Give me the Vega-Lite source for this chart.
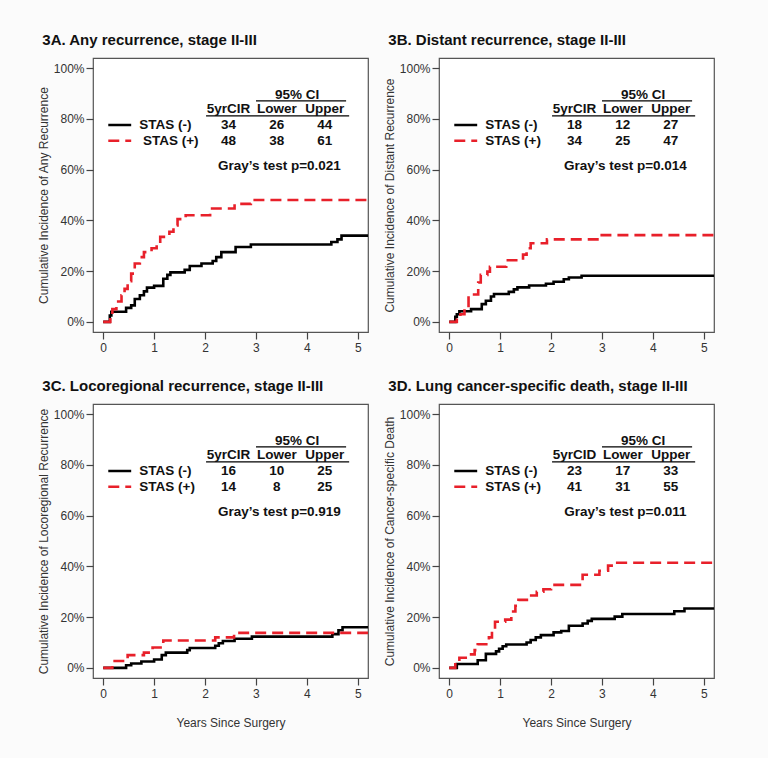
{
  "$schema": "https://vega.github.io/schema/vega-lite/v6.json",
  "background": "#fbfbfb",
  "padding": {"left": 36, "top": 32, "right": 48, "bottom": 31},
  "spacing": 24,
  "config": {
    "font": "Liberation Sans",
    "view": {"stroke": "#555", "strokeWidth": 1.2, "fill": "white"},
    "axis": {"grid": false, "domain": false, "tickColor": "#444", "tickSize": 7, "tickWidth": 1.2, "labelColor": "#333", "labelFontSize": 12, "labelPadding": 2, "titleColor": "#333", "titleFontWeight": "normal", "titleFontSize": 12, "titlePadding": 3},
    "axisX": {"labelPadding": 3, "titleFontSize": 12, "titlePadding": 18},
    "title": {"anchor": "start", "fontSize": 15, "fontWeight": "bold", "color": "#111", "offset": 10, "dx": 5},
    "concat": {"spacing": 8},
    "text": {"font": "Liberation Sans"}
  },
  "datasets": {
    "curves": [
      {"p":"A","g":"STAS (-)","t":0,"c":0},{"p":"A","g":"STAS (-)","t":0.12,"c":0},{"p":"A","g":"STAS (-)","t":0.13,"c":2.5},{"p":"A","g":"STAS (-)","t":0.16,"c":4},{"p":"A","g":"STAS (-)","t":0.45,"c":5.5},{"p":"A","g":"STAS (-)","t":0.55,"c":6.5},{"p":"A","g":"STAS (-)","t":0.62,"c":9},{"p":"A","g":"STAS (-)","t":0.72,"c":10.5},{"p":"A","g":"STAS (-)","t":0.8,"c":12},{"p":"A","g":"STAS (-)","t":0.86,"c":13.5},{"p":"A","g":"STAS (-)","t":1.0,"c":14.2},{"p":"A","g":"STAS (-)","t":1.18,"c":17},{"p":"A","g":"STAS (-)","t":1.26,"c":18.5},{"p":"A","g":"STAS (-)","t":1.32,"c":19.5},{"p":"A","g":"STAS (-)","t":1.6,"c":20.5},{"p":"A","g":"STAS (-)","t":1.7,"c":22},{"p":"A","g":"STAS (-)","t":1.93,"c":23},{"p":"A","g":"STAS (-)","t":2.15,"c":24},{"p":"A","g":"STAS (-)","t":2.22,"c":25.5},{"p":"A","g":"STAS (-)","t":2.32,"c":27.5},{"p":"A","g":"STAS (-)","t":2.6,"c":29.5},{"p":"A","g":"STAS (-)","t":2.9,"c":30.5},{"p":"A","g":"STAS (-)","t":4.48,"c":31.5},{"p":"A","g":"STAS (-)","t":4.6,"c":32.5},{"p":"A","g":"STAS (-)","t":4.68,"c":34},{"p":"A","g":"STAS (-)","t":5.2,"c":34},
      {"p":"A","g":"STAS (+)","t":0,"c":0},{"p":"A","g":"STAS (+)","t":0.12,"c":0},{"p":"A","g":"STAS (+)","t":0.14,"c":2.5},{"p":"A","g":"STAS (+)","t":0.18,"c":5},{"p":"A","g":"STAS (+)","t":0.26,"c":8},{"p":"A","g":"STAS (+)","t":0.36,"c":10.5},{"p":"A","g":"STAS (+)","t":0.42,"c":13},{"p":"A","g":"STAS (+)","t":0.48,"c":16},{"p":"A","g":"STAS (+)","t":0.55,"c":19},{"p":"A","g":"STAS (+)","t":0.62,"c":23},{"p":"A","g":"STAS (+)","t":0.72,"c":25.5},{"p":"A","g":"STAS (+)","t":0.8,"c":27.5},{"p":"A","g":"STAS (+)","t":0.95,"c":29},{"p":"A","g":"STAS (+)","t":1.05,"c":31},{"p":"A","g":"STAS (+)","t":1.12,"c":33.5},{"p":"A","g":"STAS (+)","t":1.3,"c":35.5},{"p":"A","g":"STAS (+)","t":1.38,"c":38},{"p":"A","g":"STAS (+)","t":1.46,"c":40.5},{"p":"A","g":"STAS (+)","t":1.62,"c":42},{"p":"A","g":"STAS (+)","t":2.1,"c":44.7},{"p":"A","g":"STAS (+)","t":2.58,"c":46.5},{"p":"A","g":"STAS (+)","t":2.9,"c":48},{"p":"A","g":"STAS (+)","t":5.2,"c":48},
      {"p":"B","g":"STAS (-)","t":0,"c":0},{"p":"B","g":"STAS (-)","t":0.1,"c":0},{"p":"B","g":"STAS (-)","t":0.12,"c":2},{"p":"B","g":"STAS (-)","t":0.15,"c":3},{"p":"B","g":"STAS (-)","t":0.2,"c":4.2},{"p":"B","g":"STAS (-)","t":0.43,"c":5},{"p":"B","g":"STAS (-)","t":0.64,"c":7},{"p":"B","g":"STAS (-)","t":0.72,"c":8.3},{"p":"B","g":"STAS (-)","t":0.82,"c":10},{"p":"B","g":"STAS (-)","t":0.88,"c":11},{"p":"B","g":"STAS (-)","t":1.17,"c":11.8},{"p":"B","g":"STAS (-)","t":1.27,"c":12.8},{"p":"B","g":"STAS (-)","t":1.34,"c":13.6},{"p":"B","g":"STAS (-)","t":1.57,"c":14.3},{"p":"B","g":"STAS (-)","t":1.9,"c":15},{"p":"B","g":"STAS (-)","t":2.05,"c":15.8},{"p":"B","g":"STAS (-)","t":2.25,"c":16.8},{"p":"B","g":"STAS (-)","t":2.35,"c":17.5},{"p":"B","g":"STAS (-)","t":2.6,"c":18.2},{"p":"B","g":"STAS (-)","t":5.2,"c":18.2},
      {"p":"B","g":"STAS (+)","t":0,"c":0},{"p":"B","g":"STAS (+)","t":0.12,"c":0},{"p":"B","g":"STAS (+)","t":0.15,"c":1.5},{"p":"B","g":"STAS (+)","t":0.22,"c":3},{"p":"B","g":"STAS (+)","t":0.3,"c":4.5},{"p":"B","g":"STAS (+)","t":0.38,"c":10.8},{"p":"B","g":"STAS (+)","t":0.57,"c":15.5},{"p":"B","g":"STAS (+)","t":0.62,"c":18.5},{"p":"B","g":"STAS (+)","t":0.75,"c":19.8},{"p":"B","g":"STAS (+)","t":0.8,"c":21.7},{"p":"B","g":"STAS (+)","t":1.12,"c":24.3},{"p":"B","g":"STAS (+)","t":1.45,"c":26.5},{"p":"B","g":"STAS (+)","t":1.52,"c":29},{"p":"B","g":"STAS (+)","t":1.6,"c":31},{"p":"B","g":"STAS (+)","t":1.92,"c":32.5},{"p":"B","g":"STAS (+)","t":2.95,"c":34.2},{"p":"B","g":"STAS (+)","t":5.2,"c":34.2},
      {"p":"C","g":"STAS (-)","t":0,"c":0},{"p":"C","g":"STAS (-)","t":0.45,"c":1},{"p":"C","g":"STAS (-)","t":0.55,"c":1.7},{"p":"C","g":"STAS (-)","t":0.75,"c":2.5},{"p":"C","g":"STAS (-)","t":1.0,"c":3.3},{"p":"C","g":"STAS (-)","t":1.15,"c":5},{"p":"C","g":"STAS (-)","t":1.23,"c":6},{"p":"C","g":"STAS (-)","t":1.65,"c":7},{"p":"C","g":"STAS (-)","t":1.7,"c":7.8},{"p":"C","g":"STAS (-)","t":2.2,"c":8.7},{"p":"C","g":"STAS (-)","t":2.27,"c":9.7},{"p":"C","g":"STAS (-)","t":2.35,"c":10.6},{"p":"C","g":"STAS (-)","t":2.58,"c":11.5},{"p":"C","g":"STAS (-)","t":2.92,"c":12.3},{"p":"C","g":"STAS (-)","t":4.5,"c":13.3},{"p":"C","g":"STAS (-)","t":4.62,"c":14.8},{"p":"C","g":"STAS (-)","t":4.7,"c":16},{"p":"C","g":"STAS (-)","t":5.2,"c":16},
      {"p":"C","g":"STAS (+)","t":0,"c":0},{"p":"C","g":"STAS (+)","t":0.18,"c":2.7},{"p":"C","g":"STAS (+)","t":0.48,"c":5},{"p":"C","g":"STAS (+)","t":0.8,"c":6},{"p":"C","g":"STAS (+)","t":0.97,"c":8},{"p":"C","g":"STAS (+)","t":1.18,"c":10.8},{"p":"C","g":"STAS (+)","t":2.2,"c":12},{"p":"C","g":"STAS (+)","t":2.57,"c":13.8},{"p":"C","g":"STAS (+)","t":5.2,"c":13.8},
      {"p":"D","g":"STAS (-)","t":0,"c":0},{"p":"D","g":"STAS (-)","t":0.12,"c":0},{"p":"D","g":"STAS (-)","t":0.15,"c":1.5},{"p":"D","g":"STAS (-)","t":0.56,"c":3},{"p":"D","g":"STAS (-)","t":0.72,"c":5.5},{"p":"D","g":"STAS (-)","t":0.92,"c":6.5},{"p":"D","g":"STAS (-)","t":0.98,"c":7.5},{"p":"D","g":"STAS (-)","t":1.05,"c":8.5},{"p":"D","g":"STAS (-)","t":1.12,"c":9.2},{"p":"D","g":"STAS (-)","t":1.52,"c":10},{"p":"D","g":"STAS (-)","t":1.6,"c":11},{"p":"D","g":"STAS (-)","t":1.7,"c":12},{"p":"D","g":"STAS (-)","t":1.8,"c":12.9},{"p":"D","g":"STAS (-)","t":2.05,"c":14},{"p":"D","g":"STAS (-)","t":2.2,"c":14.5},{"p":"D","g":"STAS (-)","t":2.35,"c":16.6},{"p":"D","g":"STAS (-)","t":2.62,"c":17.5},{"p":"D","g":"STAS (-)","t":2.72,"c":18.5},{"p":"D","g":"STAS (-)","t":2.8,"c":19.3},{"p":"D","g":"STAS (-)","t":3.25,"c":20.2},{"p":"D","g":"STAS (-)","t":3.4,"c":21.2},{"p":"D","g":"STAS (-)","t":4.42,"c":22.3},{"p":"D","g":"STAS (-)","t":4.62,"c":23.4},{"p":"D","g":"STAS (-)","t":5.2,"c":23.4},
      {"p":"D","g":"STAS (+)","t":0,"c":0},{"p":"D","g":"STAS (+)","t":0.1,"c":0},{"p":"D","g":"STAS (+)","t":0.12,"c":2},{"p":"D","g":"STAS (+)","t":0.2,"c":4},{"p":"D","g":"STAS (+)","t":0.43,"c":5.3},{"p":"D","g":"STAS (+)","t":0.5,"c":7},{"p":"D","g":"STAS (+)","t":0.56,"c":9.3},{"p":"D","g":"STAS (+)","t":0.78,"c":12},{"p":"D","g":"STAS (+)","t":0.84,"c":14.5},{"p":"D","g":"STAS (+)","t":0.9,"c":18.2},{"p":"D","g":"STAS (+)","t":1.1,"c":19},{"p":"D","g":"STAS (+)","t":1.22,"c":22.2},{"p":"D","g":"STAS (+)","t":1.3,"c":24.5},{"p":"D","g":"STAS (+)","t":1.36,"c":26.8},{"p":"D","g":"STAS (+)","t":1.58,"c":28.5},{"p":"D","g":"STAS (+)","t":1.72,"c":30},{"p":"D","g":"STAS (+)","t":1.85,"c":31},{"p":"D","g":"STAS (+)","t":2.0,"c":32.7},{"p":"D","g":"STAS (+)","t":2.62,"c":36.7},{"p":"D","g":"STAS (+)","t":2.95,"c":38.3},{"p":"D","g":"STAS (+)","t":3.12,"c":40.3},{"p":"D","g":"STAS (+)","t":3.3,"c":41.4},{"p":"D","g":"STAS (+)","t":5.2,"c":41.4}
    ],
    "leg": [
      {"g":"STAS (-)","x":0.1,"x2":0.55,"y":77.6},
      {"g":"STAS (+)","x":0.1,"x2":0.55,"y":71.4}
    ],
    "lines": [
      {"x":3.0,"x2":4.77,"y":87.1},
      {"x":2.02,"x2":4.83,"y":81.2}
    ],
    "txt": [
      {"p":"A","k":"c","s":"95% CI","x":3.81,"y":89.3},{"p":"A","k":"c","s":"5yrCIR","x":2.46,"y":84},{"p":"A","k":"c","s":"Lower","x":3.41,"y":84},{"p":"A","k":"c","s":"Upper","x":4.35,"y":84},
      {"p":"A","k":"c","s":"34","x":2.46,"y":77.6},{"p":"A","k":"c","s":"26","x":3.41,"y":77.6},{"p":"A","k":"c","s":"44","x":4.35,"y":77.6},
      {"p":"A","k":"c","s":"48","x":2.46,"y":71.4},{"p":"A","k":"c","s":"38","x":3.41,"y":71.4},{"p":"A","k":"c","s":"61","x":4.35,"y":71.4},
      {"p":"A","k":"c","s":"Gray’s test p=0.021","x":3.46,"y":61.4},
      {"p":"A","k":"l","s":"STAS (-)","x":0.71,"y":77.6},{"p":"A","k":"l","s":"STAS (+)","x":0.78,"y":71.4},
      {"p":"B","k":"c","s":"95% CI","x":3.81,"y":89.3},{"p":"B","k":"c","s":"5yrCIR","x":2.46,"y":84},{"p":"B","k":"c","s":"Lower","x":3.41,"y":84},{"p":"B","k":"c","s":"Upper","x":4.35,"y":84},
      {"p":"B","k":"c","s":"18","x":2.46,"y":77.6},{"p":"B","k":"c","s":"12","x":3.41,"y":77.6},{"p":"B","k":"c","s":"27","x":4.35,"y":77.6},
      {"p":"B","k":"c","s":"34","x":2.46,"y":71.4},{"p":"B","k":"c","s":"25","x":3.41,"y":71.4},{"p":"B","k":"c","s":"47","x":4.35,"y":71.4},
      {"p":"B","k":"c","s":"Gray’s test p=0.014","x":3.46,"y":61.4},
      {"p":"B","k":"l","s":"STAS (-)","x":0.71,"y":77.6},{"p":"B","k":"l","s":"STAS (+)","x":0.71,"y":71.4},
      {"p":"C","k":"c","s":"95% CI","x":3.81,"y":89.3},{"p":"C","k":"c","s":"5yrCIR","x":2.46,"y":84},{"p":"C","k":"c","s":"Lower","x":3.41,"y":84},{"p":"C","k":"c","s":"Upper","x":4.35,"y":84},
      {"p":"C","k":"c","s":"16","x":2.46,"y":77.6},{"p":"C","k":"c","s":"10","x":3.41,"y":77.6},{"p":"C","k":"c","s":"25","x":4.35,"y":77.6},
      {"p":"C","k":"c","s":"14","x":2.46,"y":71.4},{"p":"C","k":"c","s":"8","x":3.41,"y":71.4},{"p":"C","k":"c","s":"25","x":4.35,"y":71.4},
      {"p":"C","k":"c","s":"Gray’s test p=0.919","x":3.46,"y":61.4},
      {"p":"C","k":"l","s":"STAS (-)","x":0.71,"y":77.6},{"p":"C","k":"l","s":"STAS (+)","x":0.71,"y":71.4},
      {"p":"D","k":"c","s":"95% CI","x":3.81,"y":89.3},{"p":"D","k":"c","s":"5yrCID","x":2.46,"y":84},{"p":"D","k":"c","s":"Lower","x":3.41,"y":84},{"p":"D","k":"c","s":"Upper","x":4.35,"y":84},
      {"p":"D","k":"c","s":"23","x":2.46,"y":77.6},{"p":"D","k":"c","s":"17","x":3.41,"y":77.6},{"p":"D","k":"c","s":"33","x":4.35,"y":77.6},
      {"p":"D","k":"c","s":"41","x":2.46,"y":71.4},{"p":"D","k":"c","s":"31","x":3.41,"y":71.4},{"p":"D","k":"c","s":"55","x":4.35,"y":71.4},
      {"p":"D","k":"c","s":"Gray’s test p=0.011","x":3.46,"y":61.4},
      {"p":"D","k":"l","s":"STAS (-)","x":0.71,"y":77.6},{"p":"D","k":"l","s":"STAS (+)","x":0.71,"y":71.4}
    ]
  },
  "vconcat": [
    {"hconcat": [
      {"title": "3A. Any recurrence, stage II-III", "width": 275, "height": 274,
       "layer": [
        {"data": {"name": "curves"}, "transform": [{"filter": "datum.p === 'A'"}],
         "mark": {"type": "line", "interpolate": "step-after", "strokeWidth": 2.6},
         "encoding": {
           "x": {"field": "t", "type": "quantitative", "scale": {"domain": [-0.2, 5.2], "nice": false, "zero": false}, "axis": {"values": [0,1,2,3,4,5], "title": null}},
           "y": {"field": "c", "type": "quantitative", "scale": {"domain": [-4, 104], "nice": false, "zero": false}, "axis": {"values": [0,20,40,60,80,100], "labelExpr": "datum.value + '%'", "title": "Cumulative Incidence of Any Recurrence"}},
           "color": {"field": "g", "type": "nominal", "scale": {"domain": ["STAS (-)", "STAS (+)"], "range": ["#000000", "#e8202a"]}, "legend": null},
           "strokeDash": {"field": "g", "type": "nominal", "scale": {"domain": ["STAS (-)", "STAS (+)"], "range": [[1, 0], [11, 6]]}, "legend": null}}},
        {"data": {"name": "leg"}, "mark": {"type": "rule", "strokeWidth": 2.6},
         "encoding": {"x": {"field": "x", "type": "quantitative"}, "x2": {"field": "x2"}, "y": {"field": "y", "type": "quantitative"},
           "color": {"field": "g", "type": "nominal", "legend": null}, "strokeDash": {"field": "g", "type": "nominal", "legend": null}}},
        {"data": {"name": "lines"}, "mark": {"type": "rule", "strokeWidth": 1.2, "color": "#000"},
         "encoding": {"x": {"field": "x", "type": "quantitative"}, "x2": {"field": "x2"}, "y": {"field": "y", "type": "quantitative"}}},
        {"data": {"name": "txt"}, "transform": [{"filter": "datum.p === 'A' && datum.k === 'c'"}],
         "mark": {"type": "text", "fontWeight": "bold", "fontSize": 13.5, "align": "center", "baseline": "middle", "color": "#111"},
         "encoding": {"x": {"field": "x", "type": "quantitative"}, "y": {"field": "y", "type": "quantitative"}, "text": {"field": "s"}}},
        {"data": {"name": "txt"}, "transform": [{"filter": "datum.p === 'A' && datum.k === 'l'"}],
         "mark": {"type": "text", "fontWeight": "bold", "fontSize": 13.5, "align": "left", "baseline": "middle", "color": "#111"},
         "encoding": {"x": {"field": "x", "type": "quantitative"}, "y": {"field": "y", "type": "quantitative"}, "text": {"field": "s"}}}
       ]},
      {"title": "3B. Distant recurrence, stage II-III", "width": 275, "height": 274,
       "layer": [
        {"data": {"name": "curves"}, "transform": [{"filter": "datum.p === 'B'"}],
         "mark": {"type": "line", "interpolate": "step-after", "strokeWidth": 2.6},
         "encoding": {
           "x": {"field": "t", "type": "quantitative", "scale": {"domain": [-0.2, 5.2], "nice": false, "zero": false}, "axis": {"values": [0,1,2,3,4,5], "title": null}},
           "y": {"field": "c", "type": "quantitative", "scale": {"domain": [-4, 104], "nice": false, "zero": false}, "axis": {"values": [0,20,40,60,80,100], "labelExpr": "datum.value + '%'", "title": "Cumulative Incidence of Distant Recurrence"}},
           "color": {"field": "g", "type": "nominal", "scale": {"domain": ["STAS (-)", "STAS (+)"], "range": ["#000000", "#e8202a"]}, "legend": null},
           "strokeDash": {"field": "g", "type": "nominal", "scale": {"domain": ["STAS (-)", "STAS (+)"], "range": [[1, 0], [11, 6]]}, "legend": null}}},
        {"data": {"name": "leg"}, "mark": {"type": "rule", "strokeWidth": 2.6},
         "encoding": {"x": {"field": "x", "type": "quantitative"}, "x2": {"field": "x2"}, "y": {"field": "y", "type": "quantitative"},
           "color": {"field": "g", "type": "nominal", "legend": null}, "strokeDash": {"field": "g", "type": "nominal", "legend": null}}},
        {"data": {"name": "lines"}, "mark": {"type": "rule", "strokeWidth": 1.2, "color": "#000"},
         "encoding": {"x": {"field": "x", "type": "quantitative"}, "x2": {"field": "x2"}, "y": {"field": "y", "type": "quantitative"}}},
        {"data": {"name": "txt"}, "transform": [{"filter": "datum.p === 'B' && datum.k === 'c'"}],
         "mark": {"type": "text", "fontWeight": "bold", "fontSize": 13.5, "align": "center", "baseline": "middle", "color": "#111"},
         "encoding": {"x": {"field": "x", "type": "quantitative"}, "y": {"field": "y", "type": "quantitative"}, "text": {"field": "s"}}},
        {"data": {"name": "txt"}, "transform": [{"filter": "datum.p === 'B' && datum.k === 'l'"}],
         "mark": {"type": "text", "fontWeight": "bold", "fontSize": 13.5, "align": "left", "baseline": "middle", "color": "#111"},
         "encoding": {"x": {"field": "x", "type": "quantitative"}, "y": {"field": "y", "type": "quantitative"}, "text": {"field": "s"}}}
       ]}
    ]},
    {"hconcat": [
      {"title": "3C. Locoregional recurrence, stage II-III", "width": 275, "height": 274,
       "layer": [
        {"data": {"name": "curves"}, "transform": [{"filter": "datum.p === 'C'"}],
         "mark": {"type": "line", "interpolate": "step-after", "strokeWidth": 2.6},
         "encoding": {
           "x": {"field": "t", "type": "quantitative", "scale": {"domain": [-0.2, 5.2], "nice": false, "zero": false}, "axis": {"values": [0,1,2,3,4,5], "title": "Years Since Surgery"}},
           "y": {"field": "c", "type": "quantitative", "scale": {"domain": [-4, 104], "nice": false, "zero": false}, "axis": {"values": [0,20,40,60,80,100], "labelExpr": "datum.value + '%'", "title": "Cumulative Incidence of Locoregional Recurrence"}},
           "color": {"field": "g", "type": "nominal", "scale": {"domain": ["STAS (-)", "STAS (+)"], "range": ["#000000", "#e8202a"]}, "legend": null},
           "strokeDash": {"field": "g", "type": "nominal", "scale": {"domain": ["STAS (-)", "STAS (+)"], "range": [[1, 0], [11, 6]]}, "legend": null}}},
        {"data": {"name": "leg"}, "mark": {"type": "rule", "strokeWidth": 2.6},
         "encoding": {"x": {"field": "x", "type": "quantitative"}, "x2": {"field": "x2"}, "y": {"field": "y", "type": "quantitative"},
           "color": {"field": "g", "type": "nominal", "legend": null}, "strokeDash": {"field": "g", "type": "nominal", "legend": null}}},
        {"data": {"name": "lines"}, "mark": {"type": "rule", "strokeWidth": 1.2, "color": "#000"},
         "encoding": {"x": {"field": "x", "type": "quantitative"}, "x2": {"field": "x2"}, "y": {"field": "y", "type": "quantitative"}}},
        {"data": {"name": "txt"}, "transform": [{"filter": "datum.p === 'C' && datum.k === 'c'"}],
         "mark": {"type": "text", "fontWeight": "bold", "fontSize": 13.5, "align": "center", "baseline": "middle", "color": "#111"},
         "encoding": {"x": {"field": "x", "type": "quantitative"}, "y": {"field": "y", "type": "quantitative"}, "text": {"field": "s"}}},
        {"data": {"name": "txt"}, "transform": [{"filter": "datum.p === 'C' && datum.k === 'l'"}],
         "mark": {"type": "text", "fontWeight": "bold", "fontSize": 13.5, "align": "left", "baseline": "middle", "color": "#111"},
         "encoding": {"x": {"field": "x", "type": "quantitative"}, "y": {"field": "y", "type": "quantitative"}, "text": {"field": "s"}}}
       ]},
      {"title": "3D. Lung cancer-specific death, stage II-III", "width": 275, "height": 274,
       "layer": [
        {"data": {"name": "curves"}, "transform": [{"filter": "datum.p === 'D'"}],
         "mark": {"type": "line", "interpolate": "step-after", "strokeWidth": 2.6},
         "encoding": {
           "x": {"field": "t", "type": "quantitative", "scale": {"domain": [-0.2, 5.2], "nice": false, "zero": false}, "axis": {"values": [0,1,2,3,4,5], "title": "Years Since Surgery"}},
           "y": {"field": "c", "type": "quantitative", "scale": {"domain": [-4, 104], "nice": false, "zero": false}, "axis": {"values": [0,20,40,60,80,100], "labelExpr": "datum.value + '%'", "title": "Cumulative Incidence of Cancer-specific Death"}},
           "color": {"field": "g", "type": "nominal", "scale": {"domain": ["STAS (-)", "STAS (+)"], "range": ["#000000", "#e8202a"]}, "legend": null},
           "strokeDash": {"field": "g", "type": "nominal", "scale": {"domain": ["STAS (-)", "STAS (+)"], "range": [[1, 0], [11, 6]]}, "legend": null}}},
        {"data": {"name": "leg"}, "mark": {"type": "rule", "strokeWidth": 2.6},
         "encoding": {"x": {"field": "x", "type": "quantitative"}, "x2": {"field": "x2"}, "y": {"field": "y", "type": "quantitative"},
           "color": {"field": "g", "type": "nominal", "legend": null}, "strokeDash": {"field": "g", "type": "nominal", "legend": null}}},
        {"data": {"name": "lines"}, "mark": {"type": "rule", "strokeWidth": 1.2, "color": "#000"},
         "encoding": {"x": {"field": "x", "type": "quantitative"}, "x2": {"field": "x2"}, "y": {"field": "y", "type": "quantitative"}}},
        {"data": {"name": "txt"}, "transform": [{"filter": "datum.p === 'D' && datum.k === 'c'"}],
         "mark": {"type": "text", "fontWeight": "bold", "fontSize": 13.5, "align": "center", "baseline": "middle", "color": "#111"},
         "encoding": {"x": {"field": "x", "type": "quantitative"}, "y": {"field": "y", "type": "quantitative"}, "text": {"field": "s"}}},
        {"data": {"name": "txt"}, "transform": [{"filter": "datum.p === 'D' && datum.k === 'l'"}],
         "mark": {"type": "text", "fontWeight": "bold", "fontSize": 13.5, "align": "left", "baseline": "middle", "color": "#111"},
         "encoding": {"x": {"field": "x", "type": "quantitative"}, "y": {"field": "y", "type": "quantitative"}, "text": {"field": "s"}}}
       ]}
    ]}
  ]
}
